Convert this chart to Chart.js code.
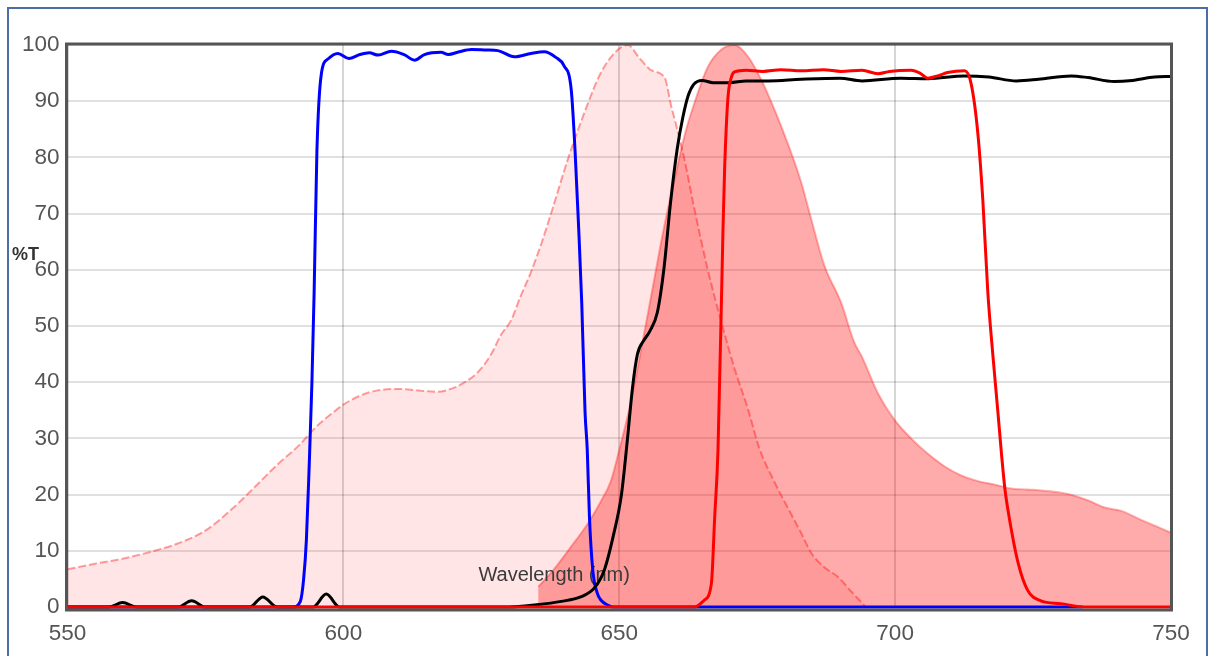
<!DOCTYPE html>
<html>
<head>
<meta charset="utf-8">
<title>%T vs Wavelength</title>
<script src="https://cdn.jsdelivr.net/npm/chart.js@4.4.1/dist/chart.umd.min.js"></script>
<style>
  html, body {
    margin: 0;
    padding: 0;
    background: #ffffff;
    overflow: hidden;
  }
  .frame {
    position: absolute;
    left: 7px;
    top: 7px;
    width: 1197px;
    height: 700px;
    border: 2px solid #4a6fa5;
  }
  #spectra-chart {
    position: absolute;
    left: 0;
    top: 0;
  }
</style>
</head>
<body>
<div class="frame"></div>
<canvas id="spectra-chart" width="1211" height="656"></canvas>
<script>
const xTickValues = [550, 600, 650, 700, 750];
const yTickValues = [0, 10, 20, 30, 40, 50, 60, 70, 80, 90, 100];

// light pink dashed curve (excitation)
const excitationNm = [550, 555, 560, 565, 570, 575, 580, 584, 588, 592, 595, 598, 600, 603, 606, 610, 614, 617, 620, 622, 624.4, 626.8, 628.6, 630.4, 632, 634, 636, 637.7, 640.7, 643.7, 646.7, 649.8, 651.6, 653.4, 655.5, 657.9, 658.4, 659.4, 660.2, 661.8, 663.6, 666, 668.5, 670.9, 673.3, 675.4, 678, 681, 683, 684.8, 687, 689.7, 692, 694.7];
const excitationPct = [6.7, 7.7, 8.6, 9.8, 11.3, 13.6, 17.6, 21.4, 25.3, 28.8, 32, 34.5, 36, 37.6, 38.5, 38.8, 38.5, 38.3, 39, 40, 41.8, 45, 48.5, 51, 55, 59.6, 65, 70.2, 79.7, 88, 95.1, 99.2, 100, 98, 95.7, 94.6, 93.8, 89.2, 86.2, 79.7, 70.9, 60.2, 50.7, 42.4, 35.3, 28.2, 22.5, 16.8, 13.1, 9.6, 7.2, 5.3, 2.8, 0];

// darker filled curve (emission)
const emissionNm = [635.3, 638, 640.7, 644.4, 646.5, 648.5, 650, 652, 654, 656, 658, 660, 662, 664, 666, 668.5, 670.9, 673.3, 675.7, 678.1, 680.5, 683, 684.8, 687.2, 690.2, 692.6, 694, 696.9, 699.9, 702.9, 705.9, 709, 712, 715, 718, 721, 724, 727, 731.3, 734.9, 738, 741, 744.6, 747.5, 750];
const emissionPct = [3.6, 6.5, 10, 15, 18.5, 22.5, 28, 36, 46, 56.5, 67, 76, 84.5, 90.8, 96, 99.2, 100, 98, 93.9, 88.6, 82.6, 75.5, 69, 60.7, 54.2, 47.1, 44.5, 38, 33.3, 30, 27.3, 25, 23.4, 22.4, 21.8, 21.1, 20.9, 20.7, 20.1, 19, 17.7, 17.1, 15.5, 14.3, 13.2];

// blue filter
const blueNm = [550, 590.9, 592.2, 592.8, 593.3, 593.8, 594.3, 594.7, 595.2, 596, 597.2, 599, 601, 603, 604.7, 606.3, 608.7, 611, 612.9, 614.7, 617.7, 619, 621, 623.2, 626, 628, 631, 634, 636.4, 638.5, 640, 641.3, 642, 642.6, 643.2, 643.8, 644.2, 644.6, 645.2, 646, 646.7, 648, 649, 734];
const bluePct = [0, 0, 1, 5, 12, 25, 40, 56, 81, 94.8, 97.5, 98.5, 97.6, 98.3, 98.6, 98.2, 98.9, 98.3, 97.3, 98.3, 98.7, 98.3, 98.8, 99.2, 99.1, 99, 97.9, 98.5, 98.8, 97.8, 96.3, 92, 81, 68.4, 54.2, 34.7, 28, 16, 6.6, 2.5, 1.2, 0.3, 0, 0];

// black curve
const blackNm = [550, 557.5, 560, 562.5, 570, 572.5, 575, 583, 585.4, 588, 594.5, 596.9, 599.3, 630, 635, 639.5, 643, 645.5, 647.3, 649, 650.4, 651.5, 652.4, 653.3, 654.5, 655.5, 656.9, 658.1, 659.3, 660.5, 661.5, 662.5, 663.5, 665, 667, 670, 673, 677, 683, 690, 694, 701, 706, 712.5, 717, 722, 726, 731.9, 735, 739.7, 743, 747, 750];
const blackPct = [0, 0, 0.8, 0, 0, 1.1, 0, 0, 1.8, 0, 0, 2.3, 0, 0, 0.4, 1, 1.8, 3.4, 6.6, 13, 20, 30, 39, 45, 47.5, 49, 52.4, 60.2, 72, 81.5, 87, 91, 93, 93.7, 93.3, 93.3, 93.6, 93.6, 93.9, 94.1, 93.6, 94.1, 94, 94.5, 94.3, 93.6, 93.9, 94.5, 94.2, 93.5, 93.7, 94.3, 94.4];

// red filter
const redNm = [550, 663.6, 665.4, 666.7, 667.3, 667.9, 668.8, 669.1, 669.7, 670.3, 670.9, 673, 676, 679.3, 683, 687, 690.2, 694, 696.9, 699, 702.9, 704.5, 705.9, 708, 709.5, 712.6, 713.8, 715, 715.9, 716.8, 717.7, 718.6, 719.3, 719.9, 720.7, 722.3, 724, 726.4, 730, 734.3, 750];
const redPct = [0, 0, 1.2, 4.2, 16, 28, 67, 78, 90.6, 94.2, 95.2, 95.5, 95.3, 95.6, 95.4, 95.6, 95.3, 95.5, 94.9, 95.3, 95.5, 95, 94.1, 94.6, 95.1, 95.4, 93, 84.2, 72.3, 56, 45, 35, 27, 21, 15.8, 7.8, 3, 1.1, 0.6, 0, 0];

const FONT_FAMILY = "'Liberation Sans', Arial, sans-serif";
const BLUE_INDEX = 2;

function toPoints(xs, ys) {
  return xs.map((x, i) => ({ x, y: ys[i] }));
}

const plotDecor = {
  id: "plotDecor",
  beforeDatasetDraw(chart, args) {
    // axis name sits over the fills but under the filter lines
    if (args.index !== BLUE_INDEX) {
      return;
    }
    const { ctx, chartArea } = chart;
    ctx.save();
    ctx.font = `20px ${FONT_FAMILY}`;
    ctx.fillStyle = "#3a3a3a";
    ctx.textAlign = "center";
    ctx.textBaseline = "alphabetic";
    ctx.fillText("Wavelength (nm)", chartArea.left + chartArea.width * 0.441, 581);
    ctx.restore();
  },
  afterDatasetsDraw(chart) {
    const { ctx, chartArea } = chart;
    ctx.save();
    ctx.strokeStyle = "#555";
    ctx.lineWidth = 3;
    ctx.strokeRect(
      chartArea.left - 1,
      chartArea.top - 1,
      chartArea.right - chartArea.left + 1.5,
      chartArea.bottom - chartArea.top + 4
    );
    ctx.restore();
  },
  afterDraw(chart) {
    const { ctx } = chart;
    ctx.save();
    ctx.font = `bold 18px ${FONT_FAMILY}`;
    ctx.fillStyle = "#333";
    ctx.textAlign = "left";
    ctx.textBaseline = "middle";
    ctx.fillText("%T", 12, 255);
    ctx.restore();
  }
};

const lineDefaults = {
  pointRadius: 0,
  pointHoverRadius: 0,
  cubicInterpolationMode: "monotone",
  clip: false
};

new Chart(document.getElementById("spectra-chart"), {
  type: "line",
  data: {
    datasets: [
      {
        ...lineDefaults,
        label: "Red filter",
        data: toPoints(redNm, redPct),
        borderColor: "#ff0000",
        borderWidth: 3,
        fill: false
      },
      {
        ...lineDefaults,
        label: "Black",
        data: toPoints(blackNm, blackPct),
        borderColor: "#000000",
        borderWidth: 3,
        fill: false
      },
      {
        ...lineDefaults,
        label: "Blue filter",
        data: toPoints(blueNm, bluePct),
        borderColor: "#0000ff",
        borderWidth: 3,
        fill: false
      },
      {
        ...lineDefaults,
        label: "Emission",
        data: toPoints(emissionNm, emissionPct),
        borderColor: "rgba(255, 0, 0, 0.3)",
        backgroundColor: "rgba(255, 0, 0, 0.33)",
        borderWidth: 2,
        fill: "origin"
      },
      {
        ...lineDefaults,
        label: "Excitation",
        data: toPoints(excitationNm, excitationPct),
        borderColor: "rgba(255, 0, 0, 0.38)",
        backgroundColor: "rgba(255, 0, 0, 0.1)",
        borderWidth: 2,
        borderDash: [8, 3],
        fill: "origin"
      }
    ]
  },
  options: {
    responsive: false,
    animation: false,
    devicePixelRatio: 1,
    layout: {
      padding: { top: 45, right: 40, left: 0, bottom: 0 }
    },
    plugins: {
      legend: { display: false },
      tooltip: { enabled: false }
    },
    scales: {
      x: {
        type: "linear",
        min: 550,
        max: 750,
        afterBuildTicks(scale) {
          scale.ticks = xTickValues.map((value) => ({ value }));
        },
        afterFit(scale) {
          scale.height = 49;
        },
        border: { display: false },
        grid: {
          color: "rgba(0, 0, 0, 0.16)",
          lineWidth: 2,
          drawTicks: false
        },
        ticks: {
          color: "#555",
          padding: 13,
          maxRotation: 0,
          font: { family: FONT_FAMILY, size: 22.5 }
        }
      },
      y: {
        min: 0,
        max: 100,
        afterBuildTicks(scale) {
          scale.ticks = yTickValues.map((value) => ({ value }));
        },
        afterFit(scale) {
          scale.width = 67.5;
        },
        border: { display: false },
        grid: {
          color: "rgba(0, 0, 0, 0.12)",
          lineWidth: 2,
          drawTicks: false
        },
        ticks: {
          color: "#555",
          padding: 8,
          font: { family: FONT_FAMILY, size: 22.5 }
        }
      }
    }
  },
  plugins: [plotDecor]
});
</script>
</body>
</html>
